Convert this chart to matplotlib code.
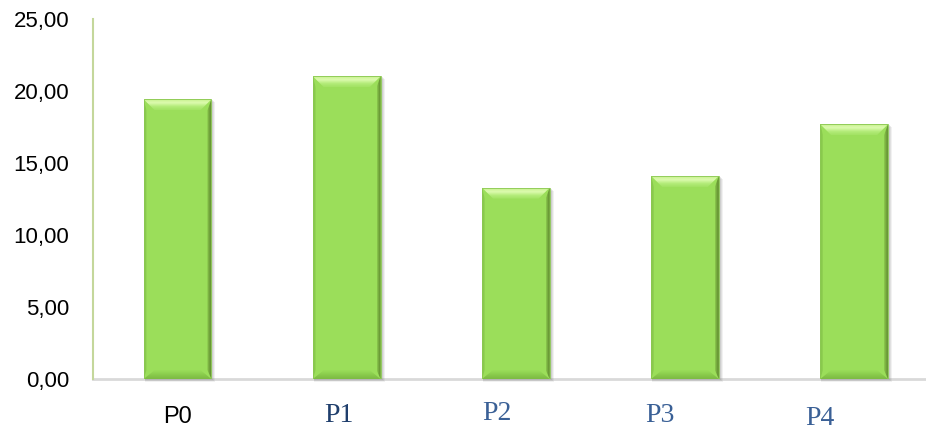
import matplotlib
matplotlib.use('Agg')
import matplotlib.pyplot as plt
import numpy as np
from matplotlib.patches import Polygon, Rectangle
from matplotlib.colors import LinearSegmentedColormap

# data
categories = ['P0', 'P1', 'P2', 'P3', 'P4']
values = [19.42, 21.02, 13.29, 14.10, 17.69]
y_ticks = [0, 5, 10, 15, 20, 25]
y_labels = ['0,00', '5,00', '10,00', '15,00', '20,00', '25,00']

fig = plt.figure(figsize=(9.26, 4.30), dpi=100)
ax = fig.add_axes([93 / 926, 1 - 379 / 430, 833 / 926, 360 / 430])

face = '#9BDE5A'
bars = ax.bar(range(len(values)), values, width=0.40, color=face,
              edgecolor='none', zorder=3)
ax.set_xlim(-0.5, 4.425)
ax.set_ylim(0, 25)

# pixel -> data scale (for the bevel look)
p0 = ax.transData.transform((0, 0))
p1 = ax.transData.transform((1, 1))
dx = 1.0 / (p1[0] - p0[0])
dy = 1.0 / (p1[1] - p0[1])

top_cmap = LinearSegmentedColormap.from_list('top', ['#C6F08C', '#DDFBB0', '#B4EC7A', '#A2E263'])
bot_cmap = LinearSegmentedColormap.from_list('bot', ['#9BDE5A', '#8ACC4C', '#7CBA42'])
right_cmap = LinearSegmentedColormap.from_list('right', ['#8FCF50', '#6F9F3A', '#5E8A30'])
left_cmap = LinearSegmentedColormap.from_list('left', ['#80BE46', '#93D454'])


def gradient(poly, cmap, extent, vertical=True):
    ax.add_patch(poly)
    g = np.linspace(0, 1, 64)
    img = g.reshape(-1, 1) if vertical else g.reshape(1, -1)
    im = ax.imshow(img, cmap=cmap, extent=extent, origin='upper',
                   aspect='auto', zorder=4, interpolation='bicubic')
    im.set_clip_path(poly)


for b in bars:
    x0 = b.get_x()
    w = b.get_width()
    h = b.get_height()
    x1 = x0 + w
    t = 11 * dy   # top bevel
    bt = 9 * dy   # bottom bevel
    s = 11 * dx   # diagonal inset
    sw = 4 * dx   # side strip

    # soft shadow
    for k, a in enumerate([0.10, 0.14, 0.18]):
        off = (3 - k)
        ax.add_patch(Rectangle((x0 + 1 * dx, -off * dy), w + off * dx, h,
                               color='#7F7F7F', alpha=a, lw=0, zorder=2,
                               clip_on=False))

    # side strips
    right = Polygon([(x1 - sw, bt), (x1, 0), (x1, h), (x1 - sw, h - t)],
                    closed=True, facecolor='none', edgecolor='none',
                    transform=ax.transData)
    gradient(right, right_cmap, (x1 - sw, x1, 0, h), vertical=False)
    left = Polygon([(x0, 0), (x0 + sw * 0.7, bt), (x0 + sw * 0.7, h - t), (x0, h)],
                   closed=True, facecolor='none', edgecolor='none',
                   transform=ax.transData)
    gradient(left, left_cmap, (x0, x0 + sw * 0.7, 0, h), vertical=False)

    # top bevel
    top = Polygon([(x0, h), (x1, h), (x1 - s, h - t), (x0 + s, h - t)],
                  closed=True, facecolor='none', edgecolor='none',
                  transform=ax.transData)
    gradient(top, top_cmap, (x0, x1, h - t, h))

    # bottom bevel
    bot = Polygon([(x0, 0), (x1, 0), (x1 - s, bt), (x0 + s, bt)],
                  closed=True, facecolor='none', edgecolor='none',
                  transform=ax.transData)
    gradient(bot, bot_cmap, (x0, x1, 0, bt))

    # thin outline
    ax.add_patch(Rectangle((x0, 0), w, h, fill=False, edgecolor='#8CC853',
                           lw=0.6, zorder=5))

# axes styling
for side in ['top', 'right']:
    ax.spines[side].set_visible(False)
ax.spines['left'].set_color('#C4D79B')
ax.spines['left'].set_linewidth(1.5)
ax.spines['bottom'].set_color('#D9D9D9')
ax.spines['bottom'].set_linewidth(2)
ax.spines['bottom'].set_zorder(1)

ax.set_yticks(y_ticks)
ax.set_yticklabels(y_labels, fontsize=16, family='Liberation Sans')
ax.tick_params(axis='y', length=0, pad=17)
ax.set_xticks([])

# category labels (the original mixes fonts and offsets)
label_style = {
    'P0': dict(family='Liberation Sans', color='black', size=17, dx=0, dy=-38),
    'P1': dict(family='Liberation Serif', color='#1F3E6C', size=20, dx=-8, dy=-36),
    'P2': dict(family='Liberation Serif', color='#3A6096', size=20, dx=-18.5, dy=-34.5),
    'P3': dict(family='Liberation Serif', color='#3A6096', size=20, dx=-25.5, dy=-37),
    'P4': dict(family='Liberation Serif', color='#3A6096', size=20, dx=-34, dy=-39.5),
}
for i, cat in enumerate(categories):
    st = label_style[cat]
    ax.annotate(cat, xy=(i, 0), xycoords=('data', 'axes fraction'),
                xytext=(st['dx'] * 0.72, st['dy'] * 0.72),
                textcoords='offset points', ha='center', va='center',
                fontsize=st['size'], family=st['family'], color=st['color'],
                annotation_clip=False)

fig.savefig('out.png', dpi=100)
